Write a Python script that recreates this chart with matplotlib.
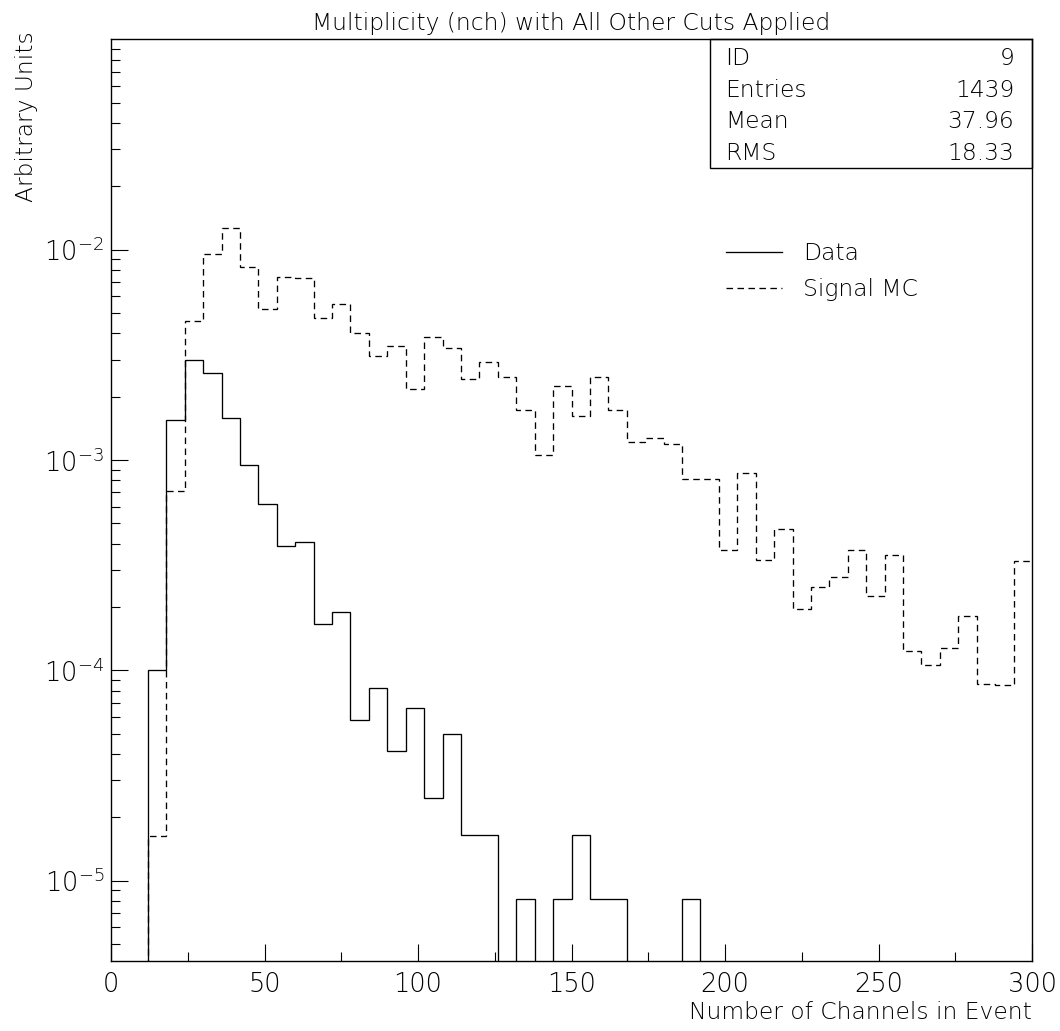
import numpy as np
import matplotlib
matplotlib.use("Agg")
import matplotlib.pyplot as plt
from matplotlib.ticker import LogLocator, MultipleLocator, FixedLocator, NullFormatter
from matplotlib.patches import Rectangle

plt.rcParams['font.family'] = ['DejaVu Sans']
plt.rcParams['font.weight'] = 'light'
plt.rcParams['axes.titleweight'] = 'light'
plt.rcParams['axes.labelweight'] = 'light'
plt.rcParams['lines.scale_dashes'] = False

# 6-channel bins from 0 to 300
bin_edges = np.arange(0, 301, 6)

# normalised multiplicity, data (zeros = empty bins)
data_vals = [0, 0, 1.0e-4, 1.54e-3, 2.99e-3, 2.58e-3, 1.58e-3, 9.5e-4, 6.15e-4, 3.88e-4,
             4.07e-4, 1.66e-4, 1.90e-4, 5.8e-5, 8.24e-5, 4.11e-5, 6.6e-5, 2.47e-5, 4.95e-5, 1.65e-5,
             1.65e-5, 0, 8.16e-6, 0, 8.16e-6, 1.65e-5, 8.16e-6, 8.16e-6, 0, 0,
             0, 8.16e-6, 0, 0, 0, 0, 0, 0, 0, 0,
             0, 0, 0, 0, 0, 0, 0, 0, 0, 0]

# signal Monte Carlo
mc_vals = [0, 0, 1.63e-5, 7.15e-4, 4.56e-3, 9.5e-3, 1.27e-2, 8.26e-3, 5.21e-3, 7.43e-3,
           7.3e-3, 4.75e-3, 5.53e-3, 4.03e-3, 3.11e-3, 3.49e-3, 2.17e-3, 3.85e-3, 3.40e-3, 2.42e-3,
           2.93e-3, 2.47e-3, 1.73e-3, 1.05e-3, 2.25e-3, 1.61e-3, 2.49e-3, 1.73e-3, 1.21e-3, 1.27e-3,
           1.19e-3, 8.09e-4, 8.09e-4, 3.73e-4, 8.67e-4, 3.33e-4, 4.69e-4, 1.95e-4, 2.48e-4, 2.79e-4,
           3.73e-4, 2.25e-4, 3.52e-4, 1.23e-4, 1.06e-4, 1.28e-4, 1.81e-4, 8.57e-5, 8.5e-5, 3.3e-4]

stat_labels = ["ID", "Entries", "Mean", "RMS"]
stat_values = ["9", "1439", "37.96", "18.33"]

fs = 16.8

fig = plt.figure(figsize=(10.6, 10.31), dpi=100)
ax = fig.add_axes([111/1060, 1 - 960.7/1031, 921/1060, 921.4/1031])

# empty bins drop to the floor of the log axis
floor = 1e-12
data_plot = np.where(np.array(data_vals) > 0, data_vals, floor)
mc_plot = np.where(np.array(mc_vals) > 0, mc_vals, floor)

ax.stairs(data_plot, bin_edges, baseline=None, color='black', lw=0.95, label='Data')
ax.stairs(mc_plot, bin_edges, baseline=None, color='black', lw=0.95,
          linestyle=(0, (4.7, 3.2)), label='Signal MC')

ax.set_yscale('log')
ax.set_xlim(0, 300)
ax.set_ylim(4.16e-6, 0.0999)

ax.xaxis.set_major_locator(MultipleLocator(50))
ax.xaxis.set_minor_locator(MultipleLocator(25))
ax.yaxis.set_major_locator(FixedLocator([1e-5, 1e-4, 1e-3, 1e-2]))
ax.yaxis.set_minor_locator(LogLocator(base=10, subs=np.arange(2, 10)))
ax.yaxis.set_minor_formatter(NullFormatter())

ax.tick_params(which='both', direction='in', top=False, right=False, width=0.8)
ax.tick_params(which='major', length=12.2)
ax.tick_params(which='minor', length=6.5)
ax.tick_params(axis='x', pad=8, labelsize=18.5)
ax.tick_params(axis='y', pad=5, labelsize=18.5)
for sp in ax.spines.values():
    sp.set_linewidth(1.0)

ax.set_title("Multiplicity (nch) with All Other Cuts Applied", fontsize=fs, pad=7)
ax.set_xlabel("Number of Channels in Event", fontsize=fs, loc='right')
ax.xaxis.set_label_coords(1.0, -0.044)
fig.text(27/1060, 1 - 31/1031, "Arbitrary Units", rotation=90, ha='center', va='top', fontsize=fs)

# statistics box in the upper right corner
ax.add_patch(Rectangle((0.650, 0.860), 0.350, 0.140, transform=ax.transAxes,
                       fill=False, edgecolor='black', lw=1.0, clip_on=False))
row_y = [0.9797, 0.9449, 0.9105, 0.8765]
for lab, val, yy in zip(stat_labels, stat_values, row_y):
    ax.text(0.6667, yy, lab, transform=ax.transAxes, ha='left', va='center', fontsize=fs)
    ax.text(0.9808, yy, val, transform=ax.transAxes, ha='right', va='center', fontsize=fs)

ax.legend(loc='upper left', bbox_to_anchor=(0.645, 0.803), frameon=False, fontsize=fs,
          handlelength=2.4, handletextpad=0.9, labelspacing=0.56)

fig.savefig("out.png", dpi=100)
